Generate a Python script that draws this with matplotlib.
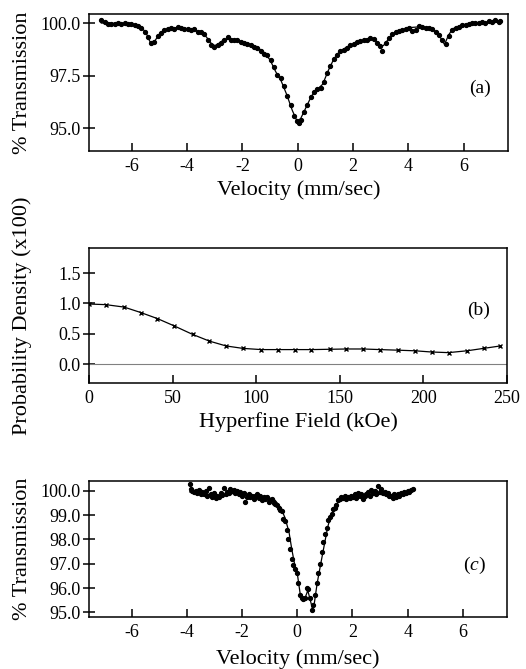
import matplotlib
matplotlib.use("Agg")
import matplotlib.pyplot as plt

plt.rcParams["font.family"] = ["Liberation Serif", "DejaVu Serif"]
plt.rcParams["axes.unicode_minus"] = False
plt.rcParams["mathtext.fontset"] = "custom"
plt.rcParams["mathtext.rm"] = "Liberation Serif"
plt.rcParams["mathtext.it"] = "Liberation Serif:italic"

# (a) spectrum: measured points and fitted curve
vel_a = [-7.10, -6.98, -6.86, -6.74, -6.62, -6.50, -6.38, -6.26, -6.14, -6.02,
         -5.90, -5.78, -5.66, -5.54, -5.42, -5.30, -5.18, -5.06, -4.94, -4.82,
         -4.70, -4.58, -4.46, -4.34, -4.22, -4.10, -3.98, -3.86, -3.74, -3.62,
         -3.50, -3.38, -3.26, -3.14, -3.02, -2.90, -2.78, -2.66, -2.54, -2.42,
         -2.30, -2.18, -2.06, -1.94, -1.82, -1.70, -1.58, -1.46, -1.34, -1.22,
         -1.10, -0.98, -0.86, -0.74, -0.62, -0.50, -0.38, -0.26, -0.14, -0.02,
         0.06, 0.10, 0.22, 0.34, 0.46, 0.58, 0.70, 0.82, 0.94, 1.06,
         1.18, 1.30, 1.42, 1.54, 1.66, 1.78, 1.90, 2.02, 2.14, 2.26,
         2.38, 2.50, 2.62, 2.74, 2.86, 2.98, 3.06, 3.18, 3.30, 3.42,
         3.54, 3.66, 3.78, 3.90, 4.02, 4.14, 4.26, 4.38, 4.50, 4.62,
         4.74, 4.86, 4.98, 5.10, 5.22, 5.34, 5.46, 5.58, 5.70, 5.82,
         5.94, 6.06, 6.18, 6.30, 6.42, 6.54, 6.66, 6.78, 6.90, 7.02,
         7.14, 7.26, 7.32]
trans_a = [100.15, 100.05, 99.98, 99.97, 99.98, 100.0, 99.99, 100.0, 99.99, 99.97,
           99.92, 99.88, 99.78, 99.6, 99.35, 99.05, 99.1, 99.4, 99.55, 99.68,
           99.72, 99.78, 99.75, 99.85, 99.8, 99.72, 99.75, 99.68, 99.72, 99.6,
           99.58, 99.5, 99.2, 98.98, 98.9, 98.95, 99.05, 99.2, 99.35, 99.2,
           99.22, 99.2, 99.1, 99.05, 99.0, 98.98, 98.9, 98.85, 98.7, 98.55,
           98.5, 98.25, 97.9, 97.55, 97.4, 97.0, 96.55, 96.1, 95.6, 95.35,
           95.25, 95.4, 95.75, 96.1, 96.5, 96.75, 96.85, 96.9, 97.2, 97.65,
           97.95, 98.3, 98.5, 98.7, 98.75, 98.85, 98.95, 99.0, 99.1, 99.15,
           99.2, 99.22, 99.3, 99.25, 99.05, 98.92, 98.7, 99.05, 99.3, 99.5,
           99.6, 99.65, 99.7, 99.75, 99.78, 99.65, 99.7, 99.88, 99.85, 99.8,
           99.8, 99.72, 99.6, 99.45, 99.2, 99.0, 99.4, 99.7, 99.8, 99.85,
           99.92, 99.95, 99.97, 100.0, 100.0, 100.02, 100.05, 100.0, 100.1, 100.08,
           100.15, 100.05, 100.1]
fit_vel_a = [-7.1, -6.5, -6.0, -5.7, -5.5, -5.35, -5.25, -5.15, -5.0, -4.8,
             -4.5, -4.0, -3.5, -3.3, -3.1, -3.0, -2.9, -2.7, -2.5, -2.0,
             -1.5, -1.2, -1.0, -0.8, -0.6, -0.4, -0.2, -0.05, 0.0, 0.1,
             0.3, 0.5, 0.7, 0.9, 1.1, 1.3, 1.5, 1.8, 2.2, 2.6,
             2.8, 3.0, 3.1, 3.3, 3.6, 4.0, 4.5, 4.9, 5.1, 5.3,
             5.45, 5.6, 6.0, 6.5, 7.0, 7.3]
fit_trans_a = [100.02, 100.0, 99.97, 99.85, 99.6, 99.15, 99.05, 99.2, 99.5, 99.7,
               99.8, 99.75, 99.6, 99.35, 99.0, 98.95, 99.0, 99.2, 99.25, 99.1,
               98.9, 98.6, 98.25, 97.7, 97.25, 96.6, 95.85, 95.4, 95.35, 95.45,
               96.0, 96.55, 96.85, 97.1, 97.75, 98.3, 98.65, 98.9, 99.1, 99.25,
               99.2, 98.9, 98.95, 99.3, 99.6, 99.8, 99.85, 99.7, 99.45, 99.0,
               99.45, 99.75, 99.95, 100.0, 100.05, 100.05]

# (b) hyperfine field distribution
field_b = [0, 10, 21, 31, 41, 51, 62, 72, 82, 92, 103, 113, 123,
           133, 144, 154, 164, 174, 185, 195, 205, 215, 226, 236, 246]
dens_b = [0.99, 0.98, 0.94, 0.85, 0.75, 0.63, 0.49, 0.38, 0.30, 0.26, 0.24, 0.24, 0.24,
          0.24, 0.245, 0.25, 0.25, 0.24, 0.23, 0.22, 0.20, 0.19, 0.22, 0.26, 0.30]

# (c) spectrum: measured points and fitted curve
vel_c = [-3.90, -3.85, -3.80, -3.74, -3.68, -3.62, -3.56, -3.50, -3.44, -3.38,
         -3.32, -3.26, -3.20, -3.14, -3.08, -3.02, -2.96, -2.90, -2.84, -2.78,
         -2.72, -2.66, -2.60, -2.54, -2.48, -2.42, -2.36, -2.30, -2.24, -2.18,
         -2.12, -2.06, -2.00, -1.94, -1.88, -1.82, -1.76, -1.70, -1.64, -1.58,
         -1.52, -1.46, -1.40, -1.34, -1.28, -1.22, -1.16, -1.10, -1.04, -0.98,
         -0.92, -0.86, -0.80, -0.74, -0.68, -0.62, -0.56, -0.50, -0.44, -0.38,
         -0.32, -0.26, -0.20, -0.14, -0.08, -0.02, 0.04, 0.10, 0.16, 0.22,
         0.28, 0.34, 0.40, 0.46, 0.52, 0.58, 0.64, 0.70, 0.76, 0.82,
         0.88, 0.94, 1.00, 1.06, 1.12, 1.18, 1.24, 1.30, 1.36, 1.42,
         1.48, 1.54, 1.60, 1.66, 1.72, 1.78, 1.84, 1.90, 1.96, 2.02,
         2.08, 2.14, 2.20, 2.26, 2.32, 2.38, 2.44, 2.50, 2.56, 2.62,
         2.68, 2.74, 2.80, 2.86, 2.92, 2.98, 3.04, 3.10, 3.16, 3.22,
         3.28, 3.34, 3.40, 3.46, 3.52, 3.58, 3.64, 3.70, 3.76, 3.82,
         3.88, 3.94, 4.00, 4.06, 4.12, 4.18]
trans_c = [100.28, 100.05, 100.0, 99.95, 100.0, 99.92, 100.02, 99.88, 99.95, 99.85,
           99.98, 99.8, 100.1, 99.85, 99.75, 99.9, 99.68, 99.8, 99.75, 99.9,
           99.82, 100.12, 99.85, 99.95, 99.92, 100.05, 99.98, 100.02, 99.9, 100.0,
           99.85, 99.95, 99.78, 99.9, 99.55, 99.75, 99.85, 99.72, 99.8, 99.65,
           99.78, 99.85, 99.7, 99.8, 99.6, 99.75, 99.65, 99.72, 99.55, 99.6,
           99.65, 99.5, 99.45, 99.4, 99.3, 99.2, 99.15, 98.85, 98.75, 98.4,
           98.0, 97.6, 97.2, 96.95, 96.8, 96.6, 96.2, 95.7, 95.6, 95.55,
           95.6, 96.0, 95.95, 95.6, 95.1, 95.3, 95.7, 96.2, 96.6, 97.0,
           97.5, 97.9, 98.2, 98.45, 98.8, 98.9, 99.05, 99.25, 99.3, 99.4,
           99.6, 99.65, 99.75, 99.7, 99.8, 99.65, 99.75, 99.7, 99.8, 99.72,
           99.85, 99.7, 99.9, 99.78, 99.85, 99.65, 99.8, 99.88, 99.95, 99.8,
           100.02, 99.9, 100.0, 99.85, 100.2, 99.95, 100.05, 99.9, 99.95, 99.85,
           99.92, 99.8, 99.78, 99.7, 99.85, 99.75, 99.85, 99.8, 99.9, 99.85,
           99.95, 99.9, 100.0, 99.95, 100.02, 100.08]
fit_vel_c = [-3.9, -3.5, -3.2, -2.9, -2.6, -2.2, -1.8, -1.4, -1.0, -0.8,
             -0.6, -0.45, -0.3, -0.2, -0.1, 0.0, 0.1, 0.2, 0.3, 0.38,
             0.45, 0.55, 0.62, 0.72, 0.85, 1.0, 1.1, 1.2, 1.35, 1.5,
             1.7, 2.0, 2.5, 3.0, 3.5, 4.0, 4.2]
fit_trans_c = [99.95, 99.9, 99.85, 99.7, 99.85, 99.9, 99.8, 99.75, 99.7, 99.6,
               99.3, 98.9, 98.3, 97.6, 97.0, 96.6, 95.8, 95.55, 95.65, 95.9,
               95.6, 95.15, 95.4, 96.2, 97.0, 97.9, 98.5, 98.9, 99.3, 99.55,
               99.7, 99.75, 99.75, 99.85, 99.75, 99.9, 100.0]

LABEL_FS = 16
TICK_FS = 13


def style_axes(ax):
    for sp in ax.spines.values():
        sp.set_linewidth(1.1)
    ax.tick_params(axis="x", direction="in", length=6, width=1.1,
                   labelsize=TICK_FS, pad=5)
    ax.tick_params(axis="y", direction="inout", length=8, width=1.1,
                   labelsize=TICK_FS, pad=2)
    ax.yaxis.set_label_coords(-0.136, 0.5)


fig = plt.figure(figsize=(5.26, 6.69), dpi=100)

# panel (a)
ax1 = fig.add_axes([0.169, 0.774, 0.797, 0.205])
ax1.plot(fit_vel_a, fit_trans_a, color="black", lw=0.9)
ax1.plot(vel_a, trans_a, "o", color="black", ms=2.8)
ax1.set_xlim(-7.55, 7.6)
ax1.set_ylim(93.9, 100.45)
ax1.set_xticks([-6, -4, -2, 0, 2, 4, 6])
ax1.set_yticks([95.0, 97.5, 100.0])
ax1.set_yticklabels(["95.0", "97.5", "100.0"])
ax1.set_xlabel("Velocity (mm/sec)", fontsize=LABEL_FS, labelpad=4)
ax1.set_ylabel("% Transmission", fontsize=LABEL_FS)
ax1.text(0.933, 0.46, "(a)", transform=ax1.transAxes, fontsize=14,
         ha="center", va="center")
style_axes(ax1)

# panel (b)
ax2 = fig.add_axes([0.169, 0.4275, 0.795, 0.2025])
ax2.axhline(0.0, color="gray", lw=0.8)
ax2.plot(field_b, dens_b, color="black", lw=0.9, marker="x", ms=3.5, mew=1.0)
ax2.set_xlim(0, 250)
ax2.set_ylim(-0.31, 1.92)
ax2.set_xticks([0, 50, 100, 150, 200, 250])
ax2.set_yticks([0.0, 0.5, 1.0, 1.5])
ax2.set_yticklabels(["0.0", "0.5", "1.0", "1.5"])
ax2.set_xlabel("Hyperfine Field (kOe)", fontsize=LABEL_FS, labelpad=4)
ax2.set_ylabel("Probability Density (x100)", fontsize=LABEL_FS)
ax2.text(0.933, 0.54, "(b)", transform=ax2.transAxes, fontsize=14,
         ha="center", va="center")
style_axes(ax2)

# panel (c)
ax3 = fig.add_axes([0.169, 0.078, 0.795, 0.2035])
ax3.plot(fit_vel_c, fit_trans_c, color="black", lw=0.9)
ax3.plot(vel_c, trans_c, "o", color="black", ms=2.8)
ax3.set_xlim(-7.55, 7.6)
ax3.set_ylim(94.82, 100.41)
ax3.set_xticks([-6, -4, -2, 0, 2, 4, 6])
ax3.set_yticks([95.0, 96.0, 97.0, 98.0, 99.0, 100.0])
ax3.set_yticklabels(["95.0", "96.0", "97.0", "98.0", "99.0", "100.0"])
ax3.set_xlabel("Velocity (mm/sec)", fontsize=LABEL_FS, labelpad=6)
ax3.set_ylabel("% Transmission", fontsize=LABEL_FS)
ax3.text(0.923, 0.38, "($\\mathit{c}$)", transform=ax3.transAxes, fontsize=14,
         ha="center", va="center")
style_axes(ax3)

fig.savefig("out.png", dpi=100)
